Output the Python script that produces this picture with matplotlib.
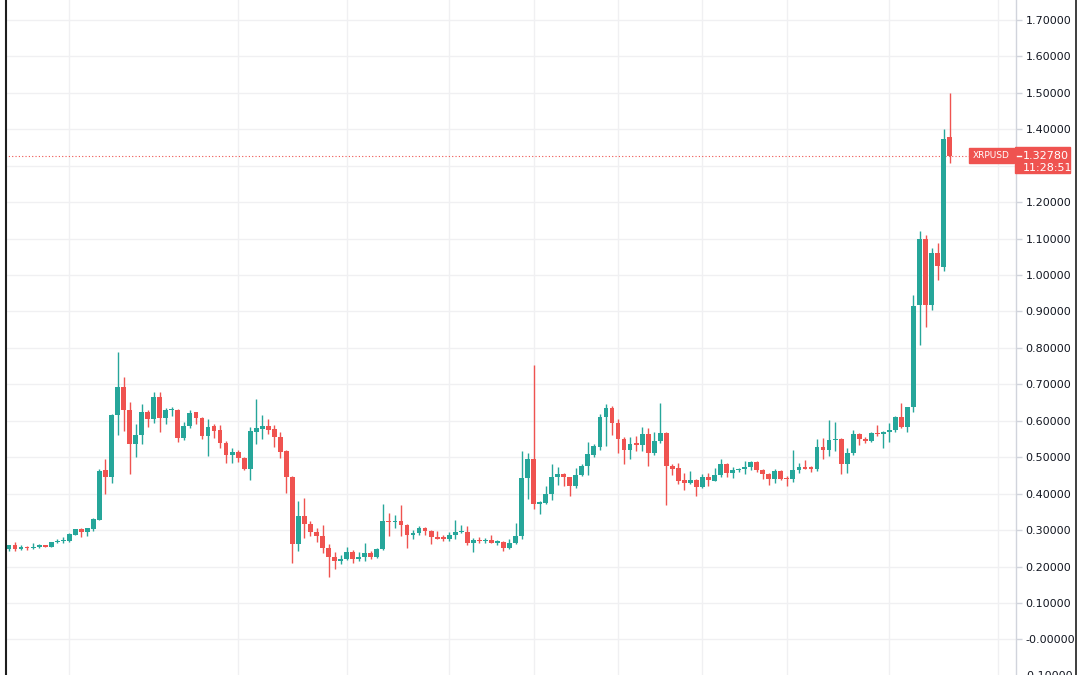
import matplotlib
matplotlib.use("Agg")
import numpy as np
import matplotlib.pyplot as plt
from matplotlib.lines import Line2D
from matplotlib.patches import Rectangle

plt.rcParams["font.family"] = ["DejaVu Sans"]

# 日线 XRPUSD
opens = [
    0.247, 0.258, 0.248, 0.254, 0.250, 0.255, 0.257, 0.255, 0.267, 0.270,
    0.270, 0.288, 0.303, 0.294, 0.303, 0.329, 0.464, 0.445, 0.615, 0.693,
    0.629, 0.536, 0.561, 0.625, 0.605, 0.664, 0.609, 0.629, 0.631, 0.554,
    0.585, 0.623, 0.609, 0.559, 0.585, 0.574, 0.538, 0.506, 0.514, 0.499,
    0.468, 0.570, 0.578, 0.585, 0.578, 0.556, 0.517, 0.447, 0.261, 0.340,
    0.318, 0.295, 0.284, 0.250, 0.225, 0.215, 0.222, 0.240, 0.221, 0.225,
    0.238, 0.225, 0.249, 0.325, 0.321, 0.325, 0.315, 0.286, 0.293, 0.306,
    0.298, 0.282, 0.280, 0.277, 0.286, 0.295, 0.296, 0.266, 0.274, 0.270,
    0.274, 0.266, 0.268, 0.251, 0.266, 0.284, 0.444, 0.495, 0.372, 0.375,
    0.399, 0.447, 0.454, 0.445, 0.420, 0.452, 0.477, 0.506, 0.529, 0.611,
    0.634, 0.595, 0.550, 0.520, 0.538, 0.534, 0.565, 0.513, 0.545, 0.567,
    0.477, 0.470, 0.438, 0.429, 0.438, 0.418, 0.445, 0.436, 0.450, 0.482,
    0.456, 0.464, 0.467, 0.473, 0.486, 0.464, 0.454, 0.441, 0.462, 0.443,
    0.440, 0.464, 0.473, 0.472, 0.467, 0.528, 0.519, 0.546, 0.550, 0.481,
    0.511, 0.564, 0.549, 0.545, 0.567, 0.564, 0.570, 0.575, 0.611, 0.584,
    0.639, 0.918, 1.100, 0.918, 1.060, 1.021, 1.378,
]
highs = [
    0.260, 0.268, 0.258, 0.256, 0.265, 0.262, 0.259, 0.268, 0.277, 0.280,
    0.291, 0.304, 0.307, 0.307, 0.332, 0.468, 0.495, 0.620, 0.788, 0.721,
    0.652, 0.591, 0.647, 0.629, 0.679, 0.679, 0.636, 0.638, 0.633, 0.597,
    0.629, 0.625, 0.611, 0.605, 0.591, 0.588, 0.545, 0.525, 0.520, 0.502,
    0.584, 0.661, 0.617, 0.606, 0.588, 0.570, 0.520, 0.449, 0.380, 0.388,
    0.324, 0.306, 0.314, 0.261, 0.239, 0.231, 0.255, 0.245, 0.239, 0.265,
    0.244, 0.252, 0.373, 0.348, 0.341, 0.370, 0.318, 0.300, 0.311, 0.309,
    0.300, 0.298, 0.286, 0.295, 0.329, 0.315, 0.311, 0.279, 0.282, 0.279,
    0.286, 0.273, 0.270, 0.275, 0.319, 0.518, 0.511, 0.753, 0.379, 0.420,
    0.482, 0.473, 0.458, 0.447, 0.470, 0.482, 0.543, 0.536, 0.620, 0.645,
    0.641, 0.604, 0.555, 0.556, 0.559, 0.584, 0.579, 0.570, 0.649, 0.570,
    0.482, 0.485, 0.456, 0.461, 0.441, 0.454, 0.456, 0.470, 0.495, 0.485,
    0.473, 0.470, 0.490, 0.490, 0.490, 0.467, 0.456, 0.467, 0.465, 0.449,
    0.521, 0.485, 0.493, 0.477, 0.549, 0.552, 0.602, 0.597, 0.552, 0.525,
    0.575, 0.567, 0.556, 0.570, 0.588, 0.573, 0.595, 0.614, 0.648, 0.639,
    0.944, 1.121, 1.111, 1.075, 1.087, 1.400, 1.498,
]
lows = [
    0.244, 0.244, 0.245, 0.245, 0.247, 0.252, 0.253, 0.253, 0.264, 0.264,
    0.268, 0.286, 0.282, 0.284, 0.297, 0.327, 0.400, 0.430, 0.562, 0.573,
    0.455, 0.502, 0.536, 0.582, 0.595, 0.568, 0.591, 0.614, 0.541, 0.548,
    0.579, 0.591, 0.549, 0.504, 0.552, 0.526, 0.485, 0.485, 0.488, 0.465,
    0.438, 0.536, 0.549, 0.565, 0.529, 0.497, 0.402, 0.211, 0.243, 0.279,
    0.283, 0.267, 0.238, 0.172, 0.193, 0.206, 0.218, 0.209, 0.214, 0.216,
    0.220, 0.223, 0.245, 0.285, 0.306, 0.284, 0.252, 0.277, 0.286, 0.286,
    0.262, 0.275, 0.270, 0.270, 0.277, 0.291, 0.259, 0.241, 0.265, 0.266,
    0.264, 0.259, 0.243, 0.248, 0.261, 0.277, 0.386, 0.359, 0.343, 0.373,
    0.382, 0.425, 0.422, 0.393, 0.415, 0.449, 0.450, 0.502, 0.520, 0.532,
    0.561, 0.513, 0.482, 0.495, 0.517, 0.517, 0.475, 0.506, 0.538, 0.370,
    0.452, 0.427, 0.411, 0.426, 0.395, 0.415, 0.420, 0.434, 0.445, 0.445,
    0.443, 0.459, 0.455, 0.464, 0.459, 0.440, 0.425, 0.429, 0.438, 0.422,
    0.431, 0.456, 0.467, 0.459, 0.462, 0.495, 0.504, 0.517, 0.454, 0.456,
    0.506, 0.533, 0.540, 0.542, 0.558, 0.526, 0.543, 0.570, 0.579, 0.570,
    0.625, 0.807, 0.858, 0.905, 0.985, 1.011, 1.307,
]
closes = [
    0.258, 0.248, 0.254, 0.250, 0.255, 0.257, 0.255, 0.267, 0.271, 0.273,
    0.289, 0.303, 0.294, 0.305, 0.330, 0.462, 0.445, 0.615, 0.693, 0.629,
    0.536, 0.561, 0.625, 0.605, 0.664, 0.609, 0.629, 0.631, 0.552, 0.585,
    0.622, 0.609, 0.559, 0.584, 0.573, 0.538, 0.506, 0.514, 0.497, 0.468,
    0.573, 0.579, 0.585, 0.576, 0.556, 0.515, 0.447, 0.261, 0.340, 0.318,
    0.295, 0.284, 0.250, 0.225, 0.215, 0.222, 0.240, 0.221, 0.225, 0.238,
    0.225, 0.249, 0.325, 0.321, 0.325, 0.314, 0.286, 0.293, 0.306, 0.298,
    0.281, 0.277, 0.275, 0.286, 0.295, 0.297, 0.266, 0.274, 0.270, 0.274,
    0.266, 0.268, 0.252, 0.266, 0.284, 0.444, 0.495, 0.372, 0.376, 0.399,
    0.445, 0.454, 0.445, 0.420, 0.452, 0.477, 0.508, 0.531, 0.611, 0.634,
    0.595, 0.550, 0.520, 0.535, 0.534, 0.565, 0.513, 0.545, 0.567, 0.476,
    0.468, 0.436, 0.429, 0.438, 0.418, 0.445, 0.438, 0.450, 0.482, 0.456,
    0.464, 0.467, 0.473, 0.486, 0.464, 0.454, 0.441, 0.462, 0.441, 0.440,
    0.464, 0.472, 0.469, 0.467, 0.528, 0.519, 0.546, 0.550, 0.481, 0.511,
    0.564, 0.549, 0.545, 0.567, 0.564, 0.570, 0.575, 0.611, 0.584, 0.639,
    0.916, 1.098, 0.918, 1.060, 1.024, 1.373, 1.3278,
]

symbol = "XRPUSD"
last_price = 1.3278
countdown = "11:28:51"

price_ticks = [0.0, 0.1, 0.2, 0.3, 0.4, 0.5, 0.6, 0.7, 0.8, 0.9,
               1.0, 1.1, 1.2, 1.3, 1.4, 1.5, 1.6, 1.7]
price_labels = ["-0.00000", "0.10000", "0.20000", "0.30000", "0.40000",
                "0.50000", "0.60000", "0.70000", "0.80000", "0.90000",
                "1.00000", "1.10000", "1.20000", "1.30000", "1.40000",
                "1.50000", "1.60000", "1.70000"]
# 竖向网格所在的K线序号
grid_days = [10, 38, 56, 73, 87, 101, 115, 129, 146, 164]

UP = "#26a69a"
DOWN = "#ef5350"

fig = plt.figure(figsize=(10.8, 6.75), dpi=100)
ax = fig.add_axes([5 / 1080, 0, 1011 / 1080, 1])

o = np.array(opens)
h = np.array(highs)
l = np.array(lows)
c = np.array(closes)
x = np.arange(len(o))
up = c >= o
colors = np.where(up, UP, DOWN)

# 影线
ax.vlines(x, l, h, colors=colors, linewidth=1.0, zorder=3)
# 实体
bottom = np.minimum(o, c)
height = np.maximum(np.abs(c - o), 0.003)
ax.bar(x, height, bottom=bottom, width=0.8, color=colors, linewidth=0, zorder=4)

ax.set_xlim(-0.663, 167.0)
ax.set_ylim(-0.0974, 1.7545)

# 网格和坐标轴
ax.set_xticks(grid_days)
ax.set_xticklabels([])
ax.tick_params(axis="x", length=0)
ax.grid(True, color="#f0f0f2", linewidth=1.0, zorder=0)
ax.set_axisbelow(True)

ax.yaxis.tick_right()
ax.set_yticks(price_ticks)
ax.set_yticklabels(price_labels)
ax.tick_params(axis="y", length=4, width=1, color="#d1d4dc", pad=3,
               labelsize=8, labelcolor="#131722")
for side in ["top", "left", "bottom"]:
    ax.spines[side].set_visible(False)
ax.spines["right"].set_color("#d1d4dc")
ax.spines["right"].set_linewidth(1)

# 底部被裁掉一半的刻度
ax.text(1.0069, -0.1, "-0.10000", transform=ax.get_yaxis_transform(),
        fontsize=8, color="#131722", va="center", ha="left", clip_on=False)

# 当前价虚线
ax.axhline(last_price, xmin=0, xmax=0.9535, color=DOWN, linewidth=0.8,
           linestyle=(0, (1, 2)), zorder=2)

# 标签（x 为坐标轴比例，y 为价格）
yt = ax.get_yaxis_transform()
ax.add_patch(Rectangle((0.9535, last_price - 0.0195), 0.0445, 0.041,
                       transform=yt, color=DOWN, clip_on=False, zorder=6))
ax.text(0.9757, last_price + 0.0012, symbol, transform=yt, color="white",
        fontsize=6.5, ha="center", va="center", clip_on=False, zorder=7)
ax.add_patch(Rectangle((0.999, last_price - 0.048), 0.0545, 0.0713,
                       transform=yt, color=DOWN, clip_on=False, zorder=6))
ax.plot([1.001, 1.005], [last_price, last_price], transform=yt, color="white",
        linewidth=1, clip_on=False, zorder=7)
ax.text(1.0069, last_price, "1.32780", transform=yt, color="white",
        fontsize=8, ha="left", va="center", clip_on=False, zorder=7)
ax.text(1.0069, last_price - 0.033, countdown, transform=yt, color="white",
        fontsize=8, ha="left", va="center", clip_on=False, zorder=7)

# 外框
fig.add_artist(Line2D([5.5 / 1080, 5.5 / 1080], [0, 1], transform=fig.transFigure,
                      color="#1e1e1e", linewidth=1.5))
fig.add_artist(Line2D([1075.5 / 1080, 1075.5 / 1080], [0, 1], transform=fig.transFigure,
                      color="#1e1e1e", linewidth=1.2))

fig.savefig("out.png", dpi=100)
